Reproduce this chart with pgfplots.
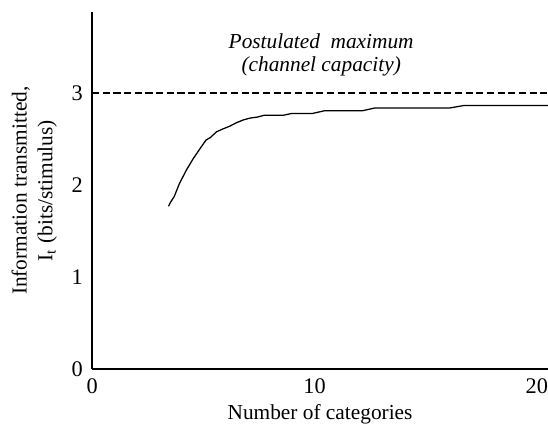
\documentclass[border=0pt]{standalone}
\usepackage{fontspec}
\setmainfont{Liberation Serif}
\usepackage{pgfplots}
\pgfplotsset{compat=1.18}

\begin{document}
\fontsize{11pt}{13pt}\selectfont
\begin{tikzpicture}
\begin{axis}[
    scale only axis,
    width=235pt, height=184pt,
    axis lines=left,
    axis line style={-, line width=0.8pt},
    xmin=0, xmax=20.5,
    ymin=0, ymax=3.88,
    xtick={0,10,20},
    ytick={0,1,2,3},
    major tick length=0pt,
    /pgf/number format/assume math mode=true,
    xticklabel style={yshift=-1pt, anchor=north},
    yticklabel style={xshift=-1pt, anchor=east},
    x tick label style={font=\fontsize{11.5pt}{13pt}\selectfont},
    y tick label style={font=\fontsize{11.5pt}{13pt}\selectfont},
    xlabel={Number of categories},
    ylabel={\shortstack{Information transmitted,\\[1pt]I\textsubscript{t} (bits/stimulus)}},
    xlabel style={yshift=2pt},
    ylabel style={yshift=0pt},
    clip=false,
]
% postulated maximum
\addplot[black, line width=1pt, dash pattern=on 3.7pt off 1.8pt] coordinates {(0,3) (20.5,3)};
% information transmitted
\addplot[black, line width=0.65pt] coordinates {
    (3.43,1.77) (3.54,1.82) (3.69,1.875) (3.93,2.02) (4.24,2.165)
    (4.55,2.29) (4.86,2.40) (5.12,2.49) (5.33,2.52) (5.59,2.58)
    (5.87,2.61) (6.18,2.64) (6.50,2.68) (6.81,2.71) (7.12,2.73)
    (7.43,2.74) (7.74,2.76) (8.6,2.76) (8.99,2.78) (9.92,2.78)
    (10.47,2.81) (12.18,2.81) (12.73,2.84) (16.1,2.84) (16.7,2.865)
    (20.5,2.865)
};
\node[font=\itshape] at (axis cs:10.3,3.56) {Postulated\ \ maximum};
\node[font=\itshape] at (axis cs:10.3,3.29) {(channel capacity)};
\end{axis}
\pgfresetboundingbox
\path (-47.5pt,-28.4pt) rectangle (235pt,190.3pt);
\end{tikzpicture}
\end{document}
